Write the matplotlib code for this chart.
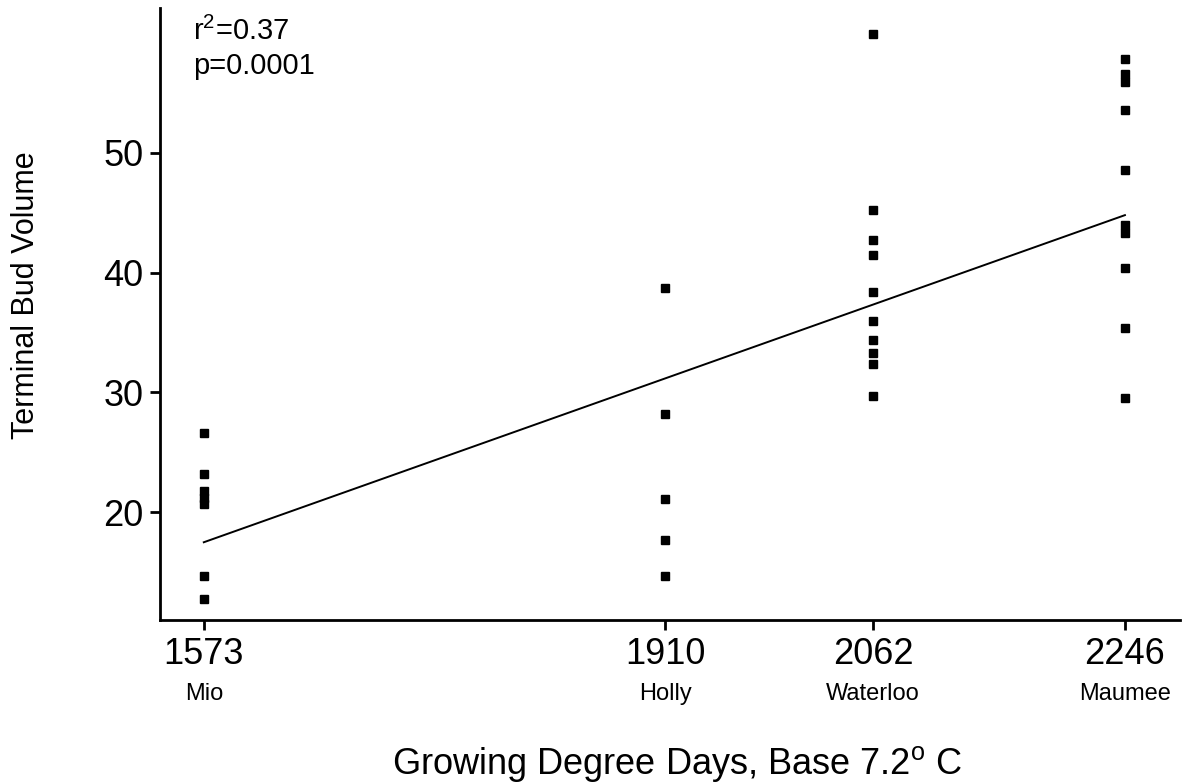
import matplotlib
matplotlib.use('Agg')
import matplotlib.pyplot as plt
import matplotlib.transforms as mtransforms

plt.rcParams['font.family'] = ['Liberation Sans', 'DejaVu Sans']
plt.rcParams['mathtext.fontset'] = 'custom'
plt.rcParams['mathtext.rm'] = 'Liberation Sans'
plt.rcParams['mathtext.it'] = 'Liberation Sans'

# growing degree days per site
sites = ['Mio', 'Holly', 'Waterloo', 'Maumee']
gdd = [1573, 1910, 2062, 2246]

# terminal bud volumes
mio = [26.6, 23.2, 21.8, 21.2, 20.7, 14.7, 12.8]
holly = [38.7, 28.2, 21.1, 17.7, 14.7]
waterloo = [59.9, 45.2, 42.7, 41.5, 38.4, 36.0, 34.4, 33.3, 32.4, 29.7]
maumee = [57.8, 56.6, 55.9, 53.6, 48.6, 44.0, 43.3, 40.4, 35.4, 29.5]
volumes = [mio, holly, waterloo, maumee]

# regression line end points
fit_x = [1573, 2246]
fit_y = [17.5, 44.8]

fig = plt.figure(figsize=(11.94, 7.84), dpi=100)
ax = fig.add_axes([0.134, 0.209, 0.854, 0.781])

for x, vals in zip(gdd, volumes):
    ax.plot([x] * len(vals), vals, 's', color='black', markersize=5.5, linestyle='none')

ax.plot(fit_x, fit_y, color='black', linewidth=1.4)

ax.set_xlim(1541, 2286)
ax.set_ylim(11.0, 62.1)

ax.spines['top'].set_visible(False)
ax.spines['right'].set_visible(False)
ax.spines['left'].set_linewidth(2)
ax.spines['bottom'].set_linewidth(2)

ax.set_yticks([20, 30, 40, 50])
ax.set_xticks(gdd)
ax.set_xticklabels([str(g) for g in gdd])
ax.tick_params(axis='both', direction='out', length=7, width=2, labelsize=26)
ax.tick_params(axis='y', pad=5)
ax.tick_params(axis='x', pad=5)

trans = mtransforms.blended_transform_factory(ax.transData, ax.transAxes)
for x, name in zip(gdd, sites):
    ax.text(x, -0.102, name, transform=trans, ha='center', va='top', fontsize=17)

ax.text(0.032, 0.985, 'r$^{2}$=0.37\np=0.0001', transform=ax.transAxes,
        ha='left', va='top', fontsize=21, linespacing=1.25)

ax.set_ylabel('Terminal Bud Volume', fontsize=22)
ax.yaxis.set_label_coords(-0.117, 0.53)
fig.text(0.567, 0.025, 'Growing Degree Days, Base 7.2$^{\\mathrm{o}}$ C',
         ha='center', va='center', fontsize=26)

plt.savefig('out.png', dpi=100)
